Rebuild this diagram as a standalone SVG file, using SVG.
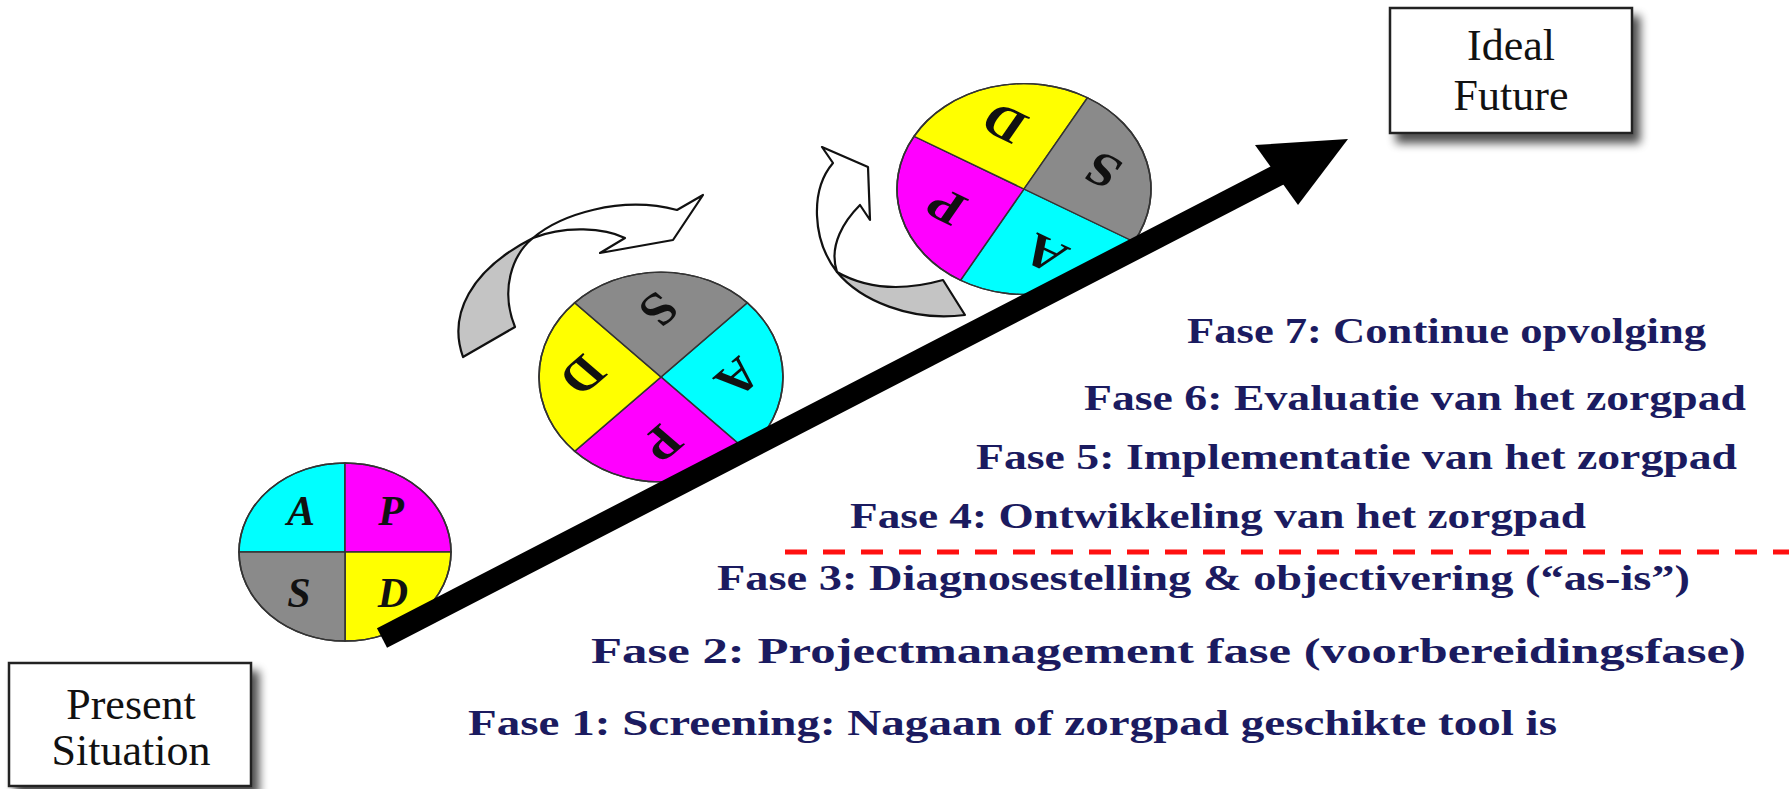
<svg xmlns="http://www.w3.org/2000/svg" width="1789" height="789" viewBox="0 0 1789 789">
<defs>
<style>
.box{fill:#fff;stroke:#222;stroke-width:2.5}
.bt{font-family:"Liberation Serif",serif;font-size:44px;fill:#111;text-anchor:middle}
.q{stroke:#333;stroke-width:1.6}
.cy{fill:#00ffff}.mg{fill:#ff00ff}.ye{fill:#ffff00}.gr{fill:#8a8a8a}
.lt{font-family:"Liberation Serif",serif;font-weight:bold;fill:#111;text-anchor:middle}
.fase{font-family:"Liberation Serif",serif;font-weight:bold;font-size:36px;fill:#1b1b60}
.ca{stroke:#111;stroke-width:2.2;stroke-linejoin:round}
</style>
<filter id="sh" x="-20%" y="-20%" width="150%" height="150%">
<feGaussianBlur in="SourceAlpha" stdDeviation="5"/>
<feOffset dx="7" dy="9" result="b"/>
<feComponentTransfer><feFuncA type="linear" slope="0.7"/></feComponentTransfer>
<feMerge><feMergeNode/><feMergeNode in="SourceGraphic"/></feMerge>
</filter>
</defs>
<rect width="1789" height="789" fill="#fff"/>

<g id="present">
<rect class="box" x="9" y="663" width="242" height="123" filter="url(#sh)"/>
<text class="bt" x="131" y="719" font-size="40">Present</text>
<text class="bt" x="131" y="765" font-size="40">Situation</text>
</g>

<g id="ideal">
<rect class="box" x="1390" y="8" width="242" height="125" filter="url(#sh)"/>
<text class="bt" x="1511" y="60">Ideal</text>
<text class="bt" x="1511" y="110">Future</text>
</g>

<g id="pdsa1" transform="translate(345,552) scale(1,0.84)">
<path class="cy q" d="M0,0 L-106,0 A106,106 0 0 1 0,-106 Z"/>
<path class="mg q" d="M0,0 L0,-106 A106,106 0 0 1 106,0 Z"/>
<path class="ye q" d="M0,0 L106,0 A106,106 0 0 1 0,106 Z"/>
<path class="gr q" d="M0,0 L0,106 A106,106 0 0 1 -106,0 Z"/>
<circle r="106" fill="none" stroke="#333" stroke-width="1.6"/>
<g font-style="italic" font-size="42">
<text class="lt" x="-44" y="-50" dy="0.35em" transform="scale(1,1.19) translate(0,8)">A</text>
<text class="lt" x="46" y="-50" dy="0.35em" transform="scale(1,1.19) translate(0,8)">P</text>
<text class="lt" x="-46" y="48" dy="0.35em" transform="scale(1,1.19) translate(0,-8)">S</text>
<text class="lt" x="48" y="48" dy="0.35em" transform="scale(1,1.19) translate(0,-8)">D</text>
</g>
</g>

<g id="pdsa2" transform="translate(661,377) scale(1,0.86) rotate(135)">
<path class="cy q" d="M0,0 L-122,0 A122,122 0 0 1 0,-122 Z"/>
<path class="mg q" d="M0,0 L0,-122 A122,122 0 0 1 122,0 Z"/>
<path class="ye q" d="M0,0 L122,0 A122,122 0 0 1 0,122 Z"/>
<path class="gr q" d="M0,0 L0,122 A122,122 0 0 1 -122,0 Z"/>
<circle r="122" fill="none" stroke="#333" stroke-width="1.6"/>
<g font-size="54">
<text class="lt" x="-54" y="-56" dy="0.35em">A</text>
<text class="lt" x="54" y="-56" dy="0.35em">P</text>
<text class="lt" x="-54" y="56" dy="0.35em">S</text>
<text class="lt" x="54" y="56" dy="0.35em">D</text>
</g>
</g>

<g id="pdsa3" transform="translate(1024,189) scale(1,0.83) rotate(210)">
<path class="cy q" d="M0,0 L-127,0 A127,127 0 0 1 0,-127 Z"/>
<path class="mg q" d="M0,0 L0,-127 A127,127 0 0 1 127,0 Z"/>
<path class="ye q" d="M0,0 L127,0 A127,127 0 0 1 0,127 Z"/>
<path class="gr q" d="M0,0 L0,127 A127,127 0 0 1 -127,0 Z"/>
<circle r="127" fill="none" stroke="#333" stroke-width="1.6"/>
<g font-size="56">
<text class="lt" x="-57" y="-58" dy="0.35em">A</text>
<text class="lt" x="57" y="-58" dy="0.35em">P</text>
<text class="lt" x="-57" y="58" dy="0.35em">S</text>
<text class="lt" x="57" y="58" dy="0.35em">D</text>
</g>
</g>

<g id="connectors">
<g id="curl1">
<path class="ca" fill="#c4c4c4" d="M463,357 C448,315 470,270 533,238 C512,255 500,290 515,327 Z"/>
<path class="ca" fill="#fff" d="M533,238 C560,215 620,195 677,210 L703,195 L673,240 L600,253 L625,238 C605,228 565,225 533,238 Z"/>
</g>
<g id="curl2">
<path class="ca" fill="#c4c4c4" d="M837,272 C860,300 910,322 965,315 L943,280 C900,292 865,288 837,272 Z"/>
<path class="ca" fill="#fff" d="M837,272 C812,240 810,190 833,163 L822,147 L868,167 L870,220 L860,205 C845,220 828,245 837,272 Z"/>
</g>
<g id="mainArrow">
<line x1="382" y1="638" x2="1282" y2="173" stroke="#000" stroke-width="22"/>
<polygon points="1348,139 1255,145 1298,205" fill="#000"/>
</g>
<line id="divider" x1="785" y1="552" x2="1789" y2="552" stroke="#ff1010" stroke-width="5" stroke-dasharray="22 16"/>
</g>

<g id="phases">
<text class="fase" x="1187" y="343" textLength="519" lengthAdjust="spacingAndGlyphs">Fase 7: Continue opvolging</text>
<text class="fase" x="1084" y="410" textLength="662" lengthAdjust="spacingAndGlyphs">Fase 6: Evaluatie van het zorgpad</text>
<text class="fase" x="976" y="469" textLength="761" lengthAdjust="spacingAndGlyphs">Fase 5: Implementatie van het zorgpad</text>
<text class="fase" x="850" y="528" textLength="736" lengthAdjust="spacingAndGlyphs">Fase 4: Ontwikkeling van het zorgpad</text>
<text class="fase" x="717" y="590" textLength="973" lengthAdjust="spacingAndGlyphs">Fase 3: Diagnosestelling &amp; objectivering (“as-is”)</text>
<text class="fase" x="591" y="663" textLength="1155" lengthAdjust="spacingAndGlyphs">Fase 2: Projectmanagement fase (voorbereidingsfase)</text>
<text class="fase" x="468" y="735" textLength="1089" lengthAdjust="spacingAndGlyphs">Fase 1: Screening: Nagaan of zorgpad geschikte tool is</text>
</g>
</svg>
